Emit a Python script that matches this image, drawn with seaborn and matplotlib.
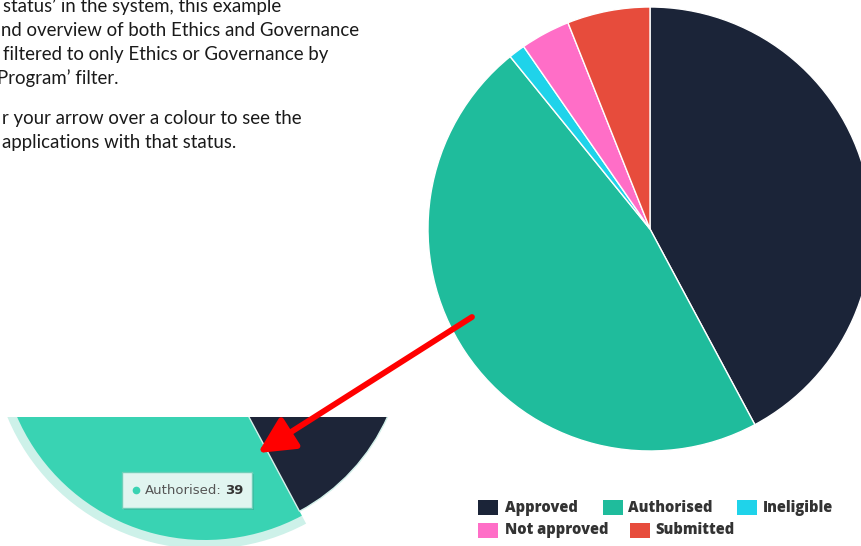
import matplotlib
matplotlib.use("Agg")
import matplotlib.pyplot as plt
from matplotlib.patches import Rectangle, FancyBboxPatch
import seaborn as sns

# ---- data ----
statuses = ["Approved", "Authorised", "Ineligible", "Not approved", "Submitted"]
counts = [35, 39, 1, 3, 5]
hex_colors = ["#1b2438", "#1fbc9c", "#1fd3ea", "#ff6ec7", "#e74c3c"]
inset_colors = ["#1d2538", "#39d3b3", "#1fd3ea", "#ff6ec7", "#e74c3c"]
halo_color = "#cdf1e9"
tooltip_status = "Authorised"
tooltip_value = 39
note_lines = [
    "status\u2019 in the system, this example",
    "nd overview of both Ethics and Governance",
    "filtered to only Ethics or Governance by",
    "Program\u2019 filter.",
    "r your arrow over a colour to see the",
    "applications with that status.",
]

sns.set_theme(style="white")
plt.rcParams["font.family"] = ["Lato", "DejaVu Sans"]
palette = sns.color_palette(hex_colors)
inset_palette = sns.color_palette(inset_colors)

W, H = 861, 546
fig = plt.figure(figsize=(W / 100, H / 100), dpi=100)
fig.patch.set_facecolor("white")

# main axes in pixel coordinates (y up)
ax = fig.add_axes([0, 0, 1, 1])
ax.pie(counts, colors=palette, startangle=90, counterclock=False,
       center=(650, H - 229), radius=222,
       wedgeprops=dict(edgecolor="white", linewidth=1))
ax.set_xlim(0, W)
ax.set_ylim(0, H)
ax.set_aspect("auto")
ax.axis("off")
ax.set_zorder(2)
ax.patch.set_alpha(0)

# ---- inset (zoomed screenshot of hovered slice) ----
top_px = 417
ax2 = fig.add_axes([0, 0, 395 / W, (H - top_px) / H])
ax2.set_zorder(1)
cx, cy = 205, H - 335
auth_idx = statuses.index(tooltip_status)

halo_cols = ["white"] * len(counts)
halo_cols[auth_idx] = halo_color
halo_w, _ = ax2.pie(counts, colors=halo_cols, startangle=90, counterclock=False,
                    center=(cx, cy), radius=214,
                    wedgeprops=dict(linewidth=0, edgecolor="none"))
hov_cols = ["white"] * len(counts)
hov_cols[auth_idx] = inset_palette[auth_idx]
hov_w, _ = ax2.pie(counts, colors=hov_cols, startangle=90, counterclock=False,
                   center=(cx, cy), radius=205,
                   wedgeprops=dict(linewidth=0, edgecolor="none"))
for i, wdg in enumerate(list(halo_w) + list(hov_w)):
    if (i % len(counts)) != auth_idx:
        wdg.set_visible(False)
rest_w, _ = ax2.pie(counts, colors=inset_palette, startangle=90, counterclock=False,
                    center=(cx, cy), radius=200,
                    wedgeprops=dict(linewidth=0, edgecolor="none"))
for i, wdg in enumerate(rest_w):
    if i == auth_idx:
        wdg.set_visible(False)
    else:
        wdg.set_edgecolor("#d4f0ea")
        wdg.set_linewidth(1.0)
ax2.set_xlim(0, 395)
ax2.set_ylim(0, H - top_px)
ax2.set_aspect("auto")
ax2.axis("off")
for p in ax2.patches:
    p.set_clip_on(True)
    p.set_clip_path(ax2.patch)

# tooltip
shadow = FancyBboxPatch((124, 36), 130, 36, boxstyle="square,pad=0",
                        facecolor="#2a8f7a", edgecolor="none", alpha=0.35, zorder=5)
ax2.add_patch(shadow)
box = FancyBboxPatch((122, 38), 130, 36, boxstyle="square,pad=0",
                     facecolor="#e1f5f0", edgecolor="#6fcfb9", linewidth=1, zorder=6)
ax2.add_patch(box)
ax2.plot([136], [56], "o", color=inset_palette[auth_idx], markersize=4.5, zorder=7)
ax2.text(145, 56, f"{tooltip_status}:", fontsize=9.5, color="#555555",
         va="center", ha="left", zorder=7, family=["DejaVu Sans"])
ax2.text(225, 56, f"{tooltip_value}", fontsize=9.5, color="#333333",
         fontweight="bold", va="center", ha="left", zorder=7, family=["DejaVu Sans"])

# red arrow
ax.annotate("", xy=(258, H - 453), xytext=(472, H - 317),
            arrowprops=dict(arrowstyle="-|>,head_length=1.0,head_width=0.5",
                            color="#ff0000", lw=4.2, mutation_scale=22,
                            shrinkA=0, shrinkB=0))

# ---- text block ----
baselines = [12, 36, 60, 84, 124, 148]
xstarts = [3, 1, 3, -3, 2, 2]
texts = []
for s, x0, yb in zip(note_lines, xstarts, baselines):
    t = ax.text(x0, H - yb, s, fontsize=12, color="#1a1a1a",
                ha="left", va="baseline")
    texts.append(t)
fig.canvas.draw()
r = fig.canvas.get_renderer()
w = texts[1].get_window_extent(r).width
scale = 357 / w
for t in texts:
    t.set_fontsize(12 * scale)

# ---- legend ----
legend_items = [
    (478, 500, 505), (603, 500, 628), (737, 500, 763),
    (478, 523, 505), (630, 523, 655),
]
for (sx, sy, tx), lab, col in zip(legend_items, statuses, palette):
    ax.add_patch(Rectangle((sx, H - sy - 15), 20, 15, facecolor=col,
                           edgecolor="none"))
    ax.text(tx, H - sy - 7.5, lab, fontsize=10.5, fontweight="heavy",
            color="#333333", ha="left", va="center",
            family=["Open Sans", "DejaVu Sans"])

fig.savefig("out.png", dpi=100, facecolor="white")
